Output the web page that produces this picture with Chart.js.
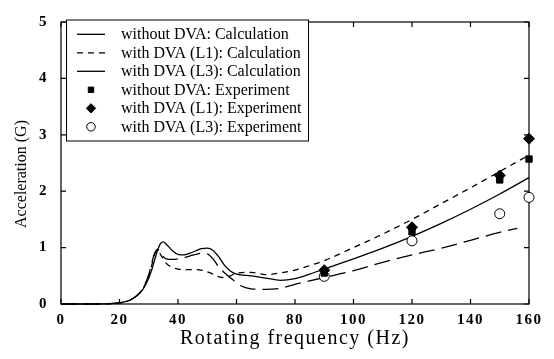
<!DOCTYPE html>
<html><head><meta charset="utf-8">
<script src="https://cdn.jsdelivr.net/npm/chart.js@4/dist/chart.umd.min.js"></script>
<style>html,body{margin:0;padding:0;background:#fff}#wrap{width:554px;height:359px}</style>
</head><body><div id="wrap"><canvas id="c" width="554" height="359"></canvas></div>
<script>
const xTickValues = [0, 20, 40, 60, 80, 100, 120, 140, 160];
const yTickValues = [0, 1, 2, 3, 4, 5];
const xTitle = 'Rotating frequency (Hz)';
const yTitle = 'Acceleration (G)';

const freqNoDva = [0,10,18,20,22,24,26,28,30,31,32,33,34,35,36,38,40,42,44,46,48,50,52,54,56,58,60,65,70,75,80,85,90,100,110,120,130,140,150,160];
const accNoDva  = [0,0,0.01,0.02,0.04,0.08,0.15,0.26,0.46,0.6,0.78,0.95,1.07,1.1,1.06,0.95,0.88,0.87,0.9,0.94,0.98,0.99,0.95,0.83,0.68,0.58,0.53,0.5,0.46,0.42,0.45,0.53,0.62,0.8,0.99,1.2,1.43,1.68,1.95,2.24];

const freqL1 = [0,10,18,20,22,24,26,28,30,31,32,33,34,36,38,40,42,44,46,48,50,52,54,56,58,60,65,70,75,80,85,90,100,110,120,130,140,150,160];
const accL1  = [0,0,0.01,0.02,0.04,0.08,0.15,0.27,0.5,0.68,0.88,0.95,0.88,0.72,0.65,0.62,0.61,0.61,0.61,0.6,0.57,0.53,0.48,0.47,0.5,0.55,0.56,0.52,0.55,0.6,0.68,0.77,1.0,1.24,1.5,1.78,2.06,2.35,2.64];

const freqL3 = [0,10,18,20,22,24,26,28,30,31,32,33,34,35,36,38,40,42,44,46,48,50,52,54,56,58,60,62,65,70,75,80,85,90,100,110,120,130,140,150,156];
const accL3  = [0,0,0.01,0.02,0.04,0.08,0.15,0.28,0.52,0.72,0.9,0.97,0.92,0.84,0.8,0.79,0.8,0.82,0.85,0.88,0.9,0.89,0.8,0.65,0.55,0.46,0.38,0.31,0.27,0.26,0.28,0.35,0.41,0.47,0.59,0.74,0.87,0.99,1.13,1.27,1.34];

const expFreq   = [90, 120, 150, 160];
const expNoDva  = [0.55, 1.28, 2.2, 2.57];
const expL1     = [0.6, 1.36, 2.28, 2.93];
const expL3     = [0.49, 1.12, 1.6, 1.89];

const pts = (xs, ys) => xs.map((x, i) => ({x, y: ys[i]}));
const FONT = 'Liberation Serif';

const lineBase = {borderColor: '#000', borderWidth: 1.3, pointRadius: 0, fill: false, cubicInterpolationMode: 'monotone', order: 2, clip: false};
const datasets = [
  Object.assign({label: 'without DVA: Calculation', data: pts(freqNoDva, accNoDva), borderDash: []}, lineBase),
  Object.assign({label: 'with DVA (L1): Calculation', data: pts(freqL1, accL1), borderDash: [6, 5]}, lineBase),
  Object.assign({label: 'with DVA (L3): Calculation', data: pts(freqL3, accL3), borderDash: [16, 7]}, lineBase),
  {label: 'without DVA: Experiment', data: pts(expFreq, expNoDva), showLine: false, pointStyle: 'rect', pointRadius: 4.5, backgroundColor: '#000', borderColor: '#000', borderWidth: 1, order: 0, clip: false},
  {label: 'with DVA (L1): Experiment', data: pts(expFreq, expL1), showLine: false, pointStyle: 'rectRot', pointRadius: 5.5, backgroundColor: '#000', borderColor: '#000', borderWidth: 1, order: 0, clip: false},
  {label: 'with DVA (L3): Experiment', data: pts(expFreq, expL3), showLine: false, pointStyle: 'circle', pointRadius: 5, backgroundColor: '#fff', borderColor: '#000', borderWidth: 1, order: 0, clip: false}
];

const framePlugin = {
  id: 'frame',
  beforeDraw(chart) { chart.ctx.letterSpacing = '1.5px'; },
  beforeDatasetsDraw(chart) {
    const ctx = chart.ctx, a = chart.chartArea, xs = chart.scales.x, ys = chart.scales.y;
    ctx.save();
    ctx.strokeStyle = '#000'; ctx.lineWidth = 1.2;
    ctx.strokeRect(a.left, a.top, a.right - a.left, a.bottom - a.top);
    ctx.beginPath();
    xTickValues.forEach(v => {
      const px = xs.getPixelForValue(v);
      ctx.moveTo(px, a.bottom); ctx.lineTo(px, a.bottom - 5);
      ctx.moveTo(px, a.top); ctx.lineTo(px, a.top + 5);
    });
    yTickValues.forEach(v => {
      const py = ys.getPixelForValue(v);
      ctx.moveTo(a.left, py); ctx.lineTo(a.left + 5, py);
      ctx.moveTo(a.right, py); ctx.lineTo(a.right - 5, py);
    });
    ctx.stroke();
    ctx.restore();
  },
  afterDraw(chart) {
    const ctx = chart.ctx;
    ctx.save();
    ctx.letterSpacing = '0px';
    // y title
    ctx.save();
    ctx.translate(21.5, 174);
    ctx.rotate(-Math.PI / 2);
    ctx.fillStyle = '#000';
    ctx.font = '16px "' + FONT + '"';
    ctx.textAlign = 'center'; ctx.textBaseline = 'middle';
    ctx.fillText(yTitle, 0, 0);
    ctx.restore();
    // legend
    const bx = 66.5, by = 20, bw = 242, bh = 121;
    ctx.fillStyle = '#fff';
    ctx.fillRect(bx, by, bw, bh);
    ctx.strokeStyle = '#000'; ctx.lineWidth = 1;
    ctx.strokeRect(bx, by, bw, bh);
    ctx.font = '16px "' + FONT + '"';
    ctx.textAlign = 'left'; ctx.textBaseline = 'middle';
    chart.data.datasets.forEach((ds, i) => {
      const y = 34.3 + i * 18.5;
      if (ds.showLine === false) {
        ctx.fillStyle = ds.backgroundColor; ctx.strokeStyle = ds.borderColor; ctx.lineWidth = 1;
        Chart.helpers.drawPoint(ctx, {pointStyle: ds.pointStyle, radius: ds.pointRadius * 0.85, borderWidth: 1}, 91, y);
      } else {
        ctx.strokeStyle = '#000'; ctx.lineWidth = 1.3;
        ctx.setLineDash(ds.borderDash.length && ds.borderDash[0] < 10 ? ds.borderDash : []);
        ctx.beginPath(); ctx.moveTo(77, y); ctx.lineTo(105, y); ctx.stroke();
        ctx.setLineDash([]);
      }
      ctx.fillStyle = '#000';
      ctx.fillText(ds.label, 121, y + 0.5);
    });
    ctx.restore();
  }
};

new Chart(document.getElementById('c'), {
  type: 'line',
  data: {datasets},
  options: {
    responsive: false, animation: false,
    layout: {padding: {top: 16, right: 25, left: 0, bottom: 0}},
    plugins: {legend: {display: false}, tooltip: {enabled: false}},
    scales: {
      x: {
        type: 'linear', min: 0, max: 160,
        afterFit: s => { s.height = 55; },
        afterBuildTicks: s => { s.ticks = xTickValues.map(v => ({value: v})); },
        grid: {display: false, drawTicks: false}, border: {display: false},
        ticks: {color: '#000', padding: 7, font: {family: FONT, size: 15, weight: 'bold'}},
        title: {display: true, text: xTitle, color: '#000', font: {family: FONT, size: 20}, padding: {top: 0, bottom: 8}}
      },
      y: {
        type: 'linear', min: 0, max: 5,
        afterFit: s => { s.width = 61; },
        afterBuildTicks: s => { s.ticks = yTickValues.map(v => ({value: v})); },
        grid: {display: false, drawTicks: false}, border: {display: false},
        ticks: {color: '#000', padding: 13, font: {family: FONT, size: 15, weight: 'bold'}}
      }
    }
  },
  plugins: [framePlugin]
});
</script>
</body></html>
